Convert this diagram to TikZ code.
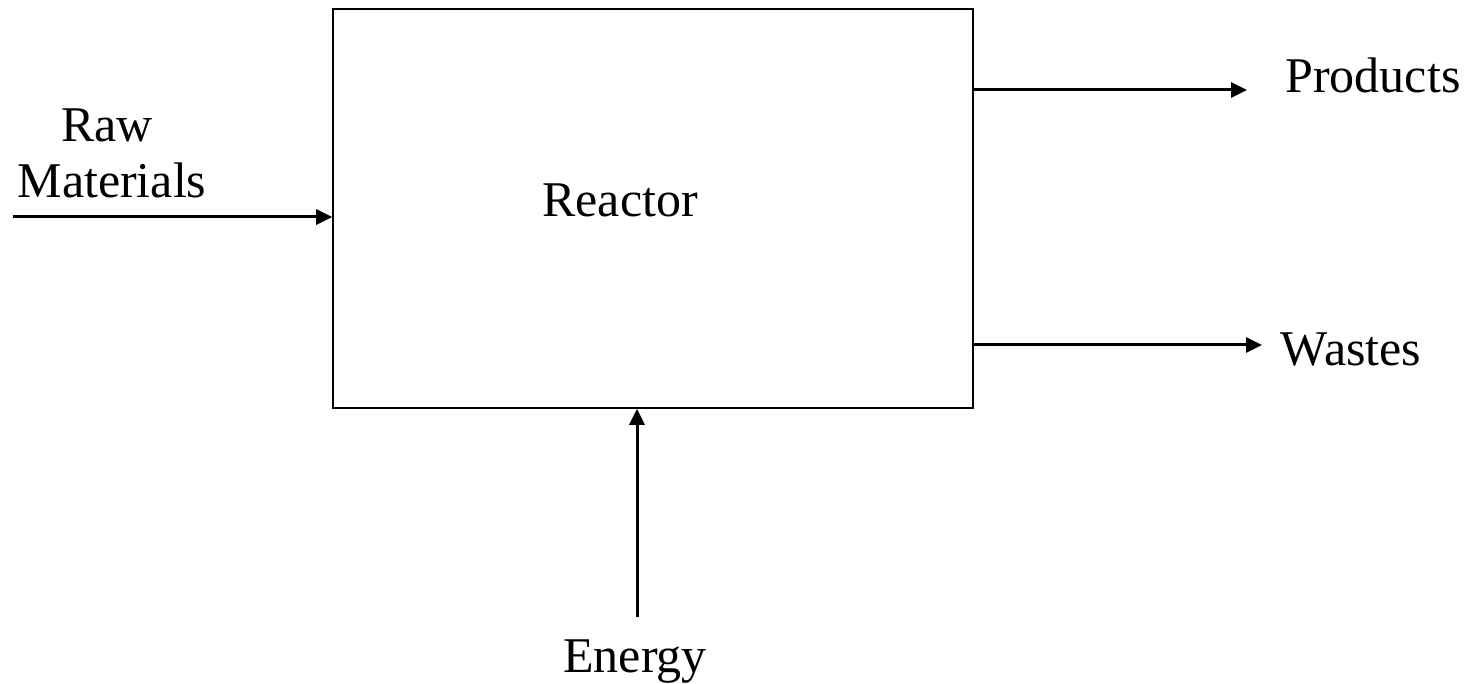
\documentclass[tikz,border=0pt]{standalone}
\usepackage{fontspec}
\setmainfont{Liberation Serif}
\usetikzlibrary{arrows.meta}
\begin{document}
\begin{tikzpicture}[x=1pt,y=-1pt,
  lbl/.style={font=\fontsize{50}{58}\selectfont, inner sep=0pt, anchor=base},
  flow/.style={line width=3pt, -{Triangle[length=16pt,width=15pt]}},
  box/.style={draw, line width=1.6pt, minimum width=640pt, minimum height=399pt, inner sep=0pt}]
\useasboundingbox (0,0) rectangle (1477,684);
\node[box] (reactor) at (653,208.5) {};
\node[lbl] (reactorlbl) at (620,217) {Reactor};
\node[lbl] (raw) at (107,142) {Raw};
\node[lbl] (materials) at (112,198) {Materials};
\node[lbl] (products) at (1373,93) {Products};
\node[lbl] (wastes) at (1351,365) {Wastes};
\node[lbl] (energy) at (635,672) {Energy};
\coordinate (rawstart) at (13,217);
\coordinate (prodend) at (1247,90);
\coordinate (wasteend) at (1262,345);
\coordinate (energystart) at (637,617);
\draw[flow] (rawstart) -- (reactor.west |- rawstart);
\draw[flow] (reactor.east |- prodend) -- (prodend);
\draw[flow] (reactor.east |- wasteend) -- (wasteend);
\draw[flow] (energystart) -- (reactor.south -| energystart);
\end{tikzpicture}
\end{document}
